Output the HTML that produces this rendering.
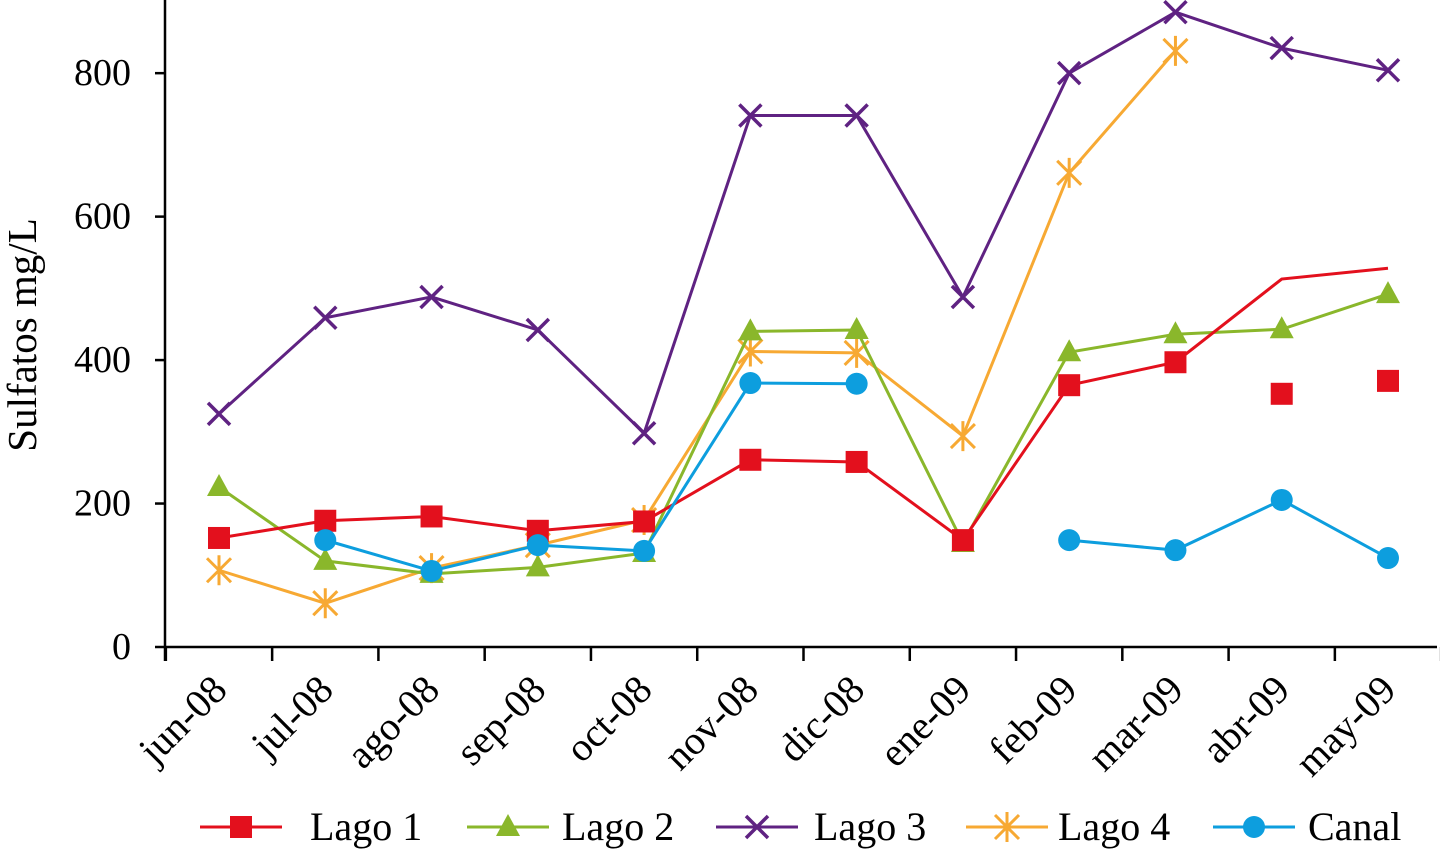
<!DOCTYPE html>
<html><head><meta charset="utf-8"><style>
html,body{margin:0;padding:0;background:#fff;}
svg{display:block;font-family:"Liberation Serif",serif;}
</style></head><body>
<svg id="chart" width="1440" height="852" viewBox="0 0 1440 852" xmlns="http://www.w3.org/2000/svg"></svg>
<script>
const categories=["jun-08","jul-08","ago-08","sep-08","oct-08","nov-08","dic-08","ene-09","feb-09","mar-09","abr-09","may-09"];
const yTicks=[0,200,400,600,800];
const lago1Markers=[152,176,182,162,175,261,258,149,365,397,353,371];
const lago1Line=[152,176,182,162,175,261,258,149,365,397,513,528];
const lago2=[223,120,102,111,131,440,442,145,411,436,443,492];
const lago3=[325,459,488,442,298,741,741,488,800,885,835,804];
const lago4=[107,61,110,142,177,412,410,294,661,831,null,null];
const canal=[null,149,106,142,134,368,367,null,149,135,205,124];

const NS="http://www.w3.org/2000/svg";
const svg=document.getElementById('chart');
const X0=165,X1=1437,Y0=647,YMAX=902,Y_TOP=0;
const FIRST=219,STEP=(1388-219)/11;
function xs(i){return FIRST+STEP*i;}
function ys(v){return Y0-(v/YMAX)*(Y0-Y_TOP);}
function mk(tag,attrs,parent){const e=document.createElementNS(NS,tag);for(const k in attrs)e.setAttribute(k,attrs[k]);(parent||svg).appendChild(e);return e;}

let ax=mk('line',{x1:X0,y1:0,x2:X0,y2:Y0+14,stroke:'#000','stroke-width':2.5});


let bx=mk('line',{x1:X0,y1:Y0,x2:X1,y2:Y0,stroke:'#000','stroke-width':2.5});


yTicks.forEach(v=>{
  const y=ys(v);
  mk('line',{x1:X0-10,y1:y,x2:X0,y2:y,stroke:'#000','stroke-width':2.5});
  const t=mk('text',{x:131,y:y+12,'text-anchor':'end','font-size':38});
  t.textContent=v;
  
  
});
for(let i=0;i<=categories.length;i++){
  const x=xs(i)-STEP/2;
  mk('line',{x1:x,y1:Y0,x2:x,y2:Y0+14,stroke:'#000','stroke-width':2.5});
}
categories.forEach((c,i)=>{
  const x=xs(i)+10,y=692;
  const t=mk('text',{x:x,y:y,'text-anchor':'end','font-size':40,transform:`rotate(-45 ${x} ${y})`});
  t.textContent=c;
  
  
});
const yt=mk('text',{x:36,y:335,'text-anchor':'middle','font-size':41,transform:'rotate(-90 36 335)'});
yt.textContent='Sulfatos mg/L';



function marker(type,x,y,color,g){
  if(type==='square')mk('rect',{x:x-11,y:y-11,width:22,height:22,fill:color},g);
  else if(type==='tri')mk('polygon',{points:`${x},${y-13} ${x+12},${y+9} ${x-12},${y+9}`,fill:color},g);
  else if(type==='x'){mk('path',{d:`M${x-11} ${y-11}L${x+11} ${y+11}M${x+11} ${y-11}L${x-11} ${y+11}`,stroke:color,'stroke-width':3.5,fill:'none'},g);}
  else if(type==='star'){mk('path',{d:`M${x-12} ${y-12}L${x+12} ${y+12}M${x+12} ${y-12}L${x-12} ${y+12}M${x} ${y-15}L${x} ${y+15}`,stroke:color,'stroke-width':3,fill:'none'},g);}
  else if(type==='circle')mk('circle',{cx:x,cy:y,r:11,fill:color},g);
}
function series(name,lineVals,markVals,color,type){
  const g=mk('g',{});
  
  
  let d='',pen=false;
  lineVals.forEach((v,i)=>{
    if(v==null){pen=false;return;}
    d+=(pen?'L':'M')+xs(i)+' '+ys(v);pen=true;
  });
  mk('path',{d:d,stroke:color,'stroke-width':3,fill:'none'},g);
  markVals.forEach((v,i)=>{if(v!=null)marker(type,xs(i),ys(v),color,g);});
}
series('series-lago-3',lago3,lago3,'#5f2282','x');
series('series-lago-4',lago4,lago4,'#f7a933','star');
series('series-lago-2',lago2,lago2,'#8ab72b','tri');
series('series-lago-1',lago1Line,lago1Markers,'#e3101d','square');
series('series-canal',canal,canal,'#0d9ede','circle');

const legend=[['Lago 1','#e3101d','square',200,310],['Lago 2','#8ab72b','tri',467,562],['Lago 3','#5f2282','x',716,814],['Lago 4','#f7a933','star',966,1058],['Canal','#0d9ede','circle',1213,1308]];
legend.forEach(l=>{
  const g=mk('g',{});
  
  
  mk('line',{x1:l[3],y1:827,x2:l[3]+82,y2:827,stroke:l[1],'stroke-width':3},g);
  marker(l[2],l[3]+41,827,l[1],g);
  const t=mk('text',{x:l[4],y:840,'font-size':40},g);
  t.textContent=l[0];
});
</script>
</body></html>
